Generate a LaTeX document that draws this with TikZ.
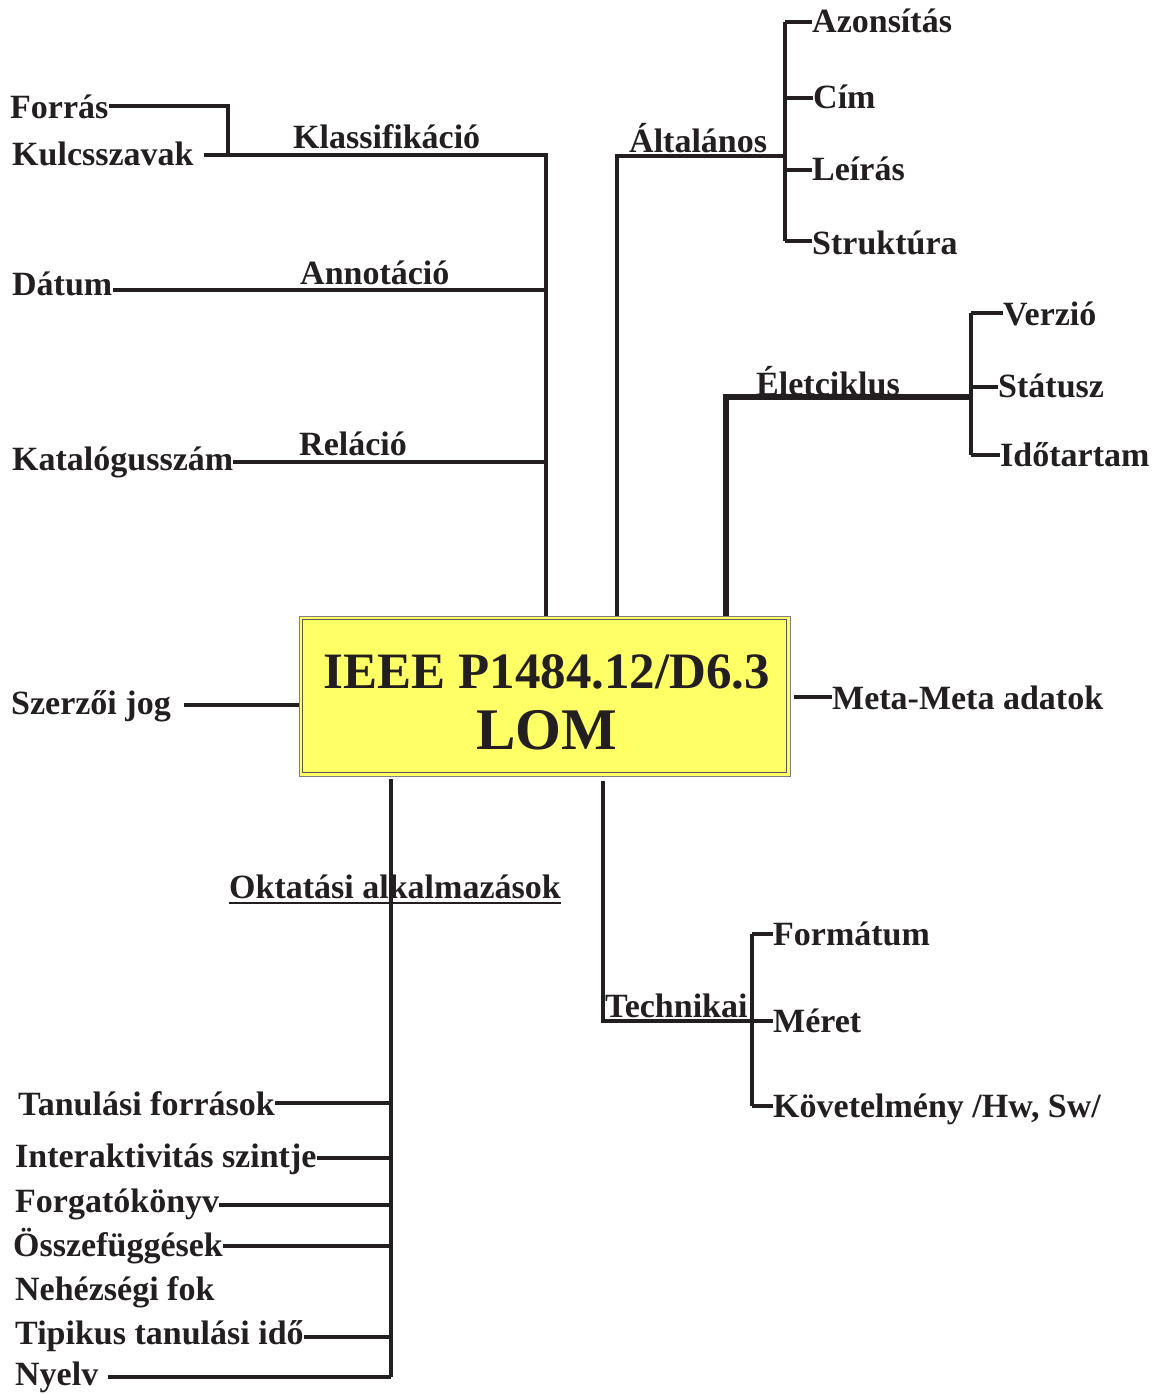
\documentclass[tikz,border=0pt]{standalone}
\usepackage{fontspec}
\setmainfont{Liberation Serif}
\usepackage{tikz}
\usetikzlibrary{positioning,calc}
\usepackage{xcolor}
\definecolor{ink}{HTML}{231F20}
\definecolor{lomyellow}{HTML}{FFFF66}
\newcommand{\lbfont}{\fontsize{34}{40}\selectfont\bfseries}

\begin{document}
\begin{tikzpicture}[x=1pt, y=-1pt,
      leaf/.style={anchor=base west, inner sep=0pt, font=\lbfont, text=ink},
      lombox/.style={draw=gray, line width=1pt, fill=lomyellow, minimum width=491pt, minimum height=160pt, inner sep=0pt},
      titletext/.style={anchor=base, inner sep=0pt, text=ink, font=\fontsize{51}{60}\selectfont\bfseries},
      branch/.style={draw=ink, line width=3.8pt},
      trunk/.style={draw=ink, line width=4.8pt}
    ]
    \useasboundingbox (0,0) rectangle (1162,1394);

    % central box
    \node[lombox] (lom) at (544.5,696) {};
    \draw[ink!75, line width=1pt] ([shift={(4,4)}]lom.north west) rectangle ([shift={(-4,-4)}]lom.south east);
    \node[titletext] (ieee) at (547,688) {IEEE P1484.12/D6.3};
    \node[titletext, font=\fontsize{59}{60}\selectfont\bfseries] (lomtext) at (547,749) {LOM};

    % left upper group
    \node[leaf] (forras) at (10,118) {Forrás};
    \node[leaf] (kulcs) at (12,165) {Kulcsszavak};
    \node[leaf] (klass) at (293,148) {Klassifikáció};
    \node[leaf] (datum) at (12,295) {Dátum};
    \node[leaf] (annot) at (300,284) {Annotáció};
    \node[leaf] (katalog) at (12,470) {Katalógusszám};
    \node[leaf] (relacio) at (299,455) {Reláció};

    % right upper groups
    \node[leaf] (altal) at (629,153) {Általános};
    \node[leaf] (azon) at (812,33) {Azonsítás};
    \node[leaf] (cim) at (813,109) {Cím};
    \node[leaf] (leiras) at (812,180) {Leírás};
    \node[leaf] (strukt) at (812,254) {Struktúra};
    \node[leaf] (eletc) at (756,395) {Életciklus};
    \node[leaf] (verzio) at (1003,325) {Verzió};
    \node[leaf] (statusz) at (998,397) {Státusz};
    \node[leaf] (idotart) at (1000,466) {Időtartam};

    % sides
    \node[leaf] (szerzo) at (11,714) {Szerzői jog};
    \node[leaf] (meta) at (832,709) {Meta-Meta adatok};

    % lower groups
    \node[leaf] (oktat) at (229,898) {Oktatási alkalmazások};
    \node[leaf] (techn) at (605,1017) {Technikai};
    \node[leaf] (format) at (773,945) {Formátum};
    \node[leaf] (meret) at (773,1032) {Méret};
    \node[leaf] (kovet) at (773,1117) {Követelmény /Hw, Sw/};
    \node[leaf] (tanul) at (18,1115) {Tanulási források};
    \node[leaf] (interakt) at (15,1167) {Interaktivitás szintje};
    \node[leaf] (forgat) at (15,1212) {Forgatókönyv};
    \node[leaf] (osszef) at (13,1256) {Összefüggések};
    \node[leaf] (nehez) at (15,1300) {Nehézségi fok};
    \node[leaf] (tipikus) at (15,1344) {Tipikus tanulási idő};
    \node[leaf] (nyelv) at (15,1385) {Nyelv};

    % junctions
    \coordinate (kbend) at (228,155);
    \coordinate (kspine) at (546,155);
    \coordinate (aspine) at (546,290);
    \coordinate (rspine) at (546,462);
    \coordinate (gtop) at (617,156);
    \coordinate (gfork) at (785,156);
    \coordinate (g1) at (785,22);
    \coordinate (g2) at (785,98);
    \coordinate (g3) at (785,170);
    \coordinate (g4) at (785,241);
    \coordinate (etop) at (726,397);
    \coordinate (efork) at (971,397);
    \coordinate (e1) at (971,313);
    \coordinate (e2) at (971,387);
    \coordinate (e3) at (971,455);
    \coordinate (szj) at (299,705);
    \coordinate (otop) at (391,779);
    \coordinate (o1) at (391,1103);
    \coordinate (o2) at (391,1158);
    \coordinate (o3) at (391,1205);
    \coordinate (o4) at (391,1246);
    \coordinate (o5) at (391,1337);
    \coordinate (o6) at (391,1377);
    \coordinate (ttop) at (603,781);
    \coordinate (tcorner) at (603,1021);
    \coordinate (tfork) at (752,1021);
    \coordinate (t1) at (752,934);
    \coordinate (t3) at (752,1106);

    % connectors
    \draw[branch] (forras.east) -| (kbend);
    \draw[trunk] ([xshift=10pt]kulcs.east |- kspine) -- (kspine) -- (kspine |- lom.north);
    \draw[branch] (datum.east |- aspine) -- (aspine);
    \draw[branch] (katalog.east |- rspine) -- (rspine);

    \draw[branch] (gtop |- lom.north) -- (gtop) -- (gfork);
    \draw[branch] (g1) -- (g4);
    \draw[trunk] (g1) -- (azon.west |- g1);
    \draw[branch] (g2) -- (cim.west |- g2);
    \draw[branch] (g3) -- (leiras.west |- g3);
    \draw[branch] (g4) -- (strukt.west |- g4);

    \draw[trunk, line width=5.8pt] (etop |- lom.north) -- (etop) -- (efork);
    \draw[branch] (e1) -- (e3);
    \draw[branch] (e1) -- (verzio.west |- e1);
    \draw[branch] (e2) -- (statusz.west |- e2);
    \draw[branch] (e3) -- (idotart.west |- e3);

    \draw[trunk] ([xshift=13pt]szerzo.east |- szj) -- (szj);
    \draw[branch] ([xshift=3pt]lom.east |- meta.west) -- (meta.west);

    \draw[branch] (otop) -- (o6);
    \draw[ink, line width=2pt] ([yshift=-5pt]oktat.base west) -- ([yshift=-5pt]oktat.base east);
    \draw[branch] (tanul.east |- o1) -- (o1);
    \draw[branch] (interakt.east |- o2) -- (o2);
    \draw[branch] (forgat.east |- o3) -- (o3);
    \draw[branch] (osszef.east |- o4) -- (o4);
    \draw[branch] (tipikus.east |- o5) -- (o5);
    \draw[branch] ([xshift=10pt]nyelv.east |- o6) -- (o6);

    \draw[branch] (ttop) -- (tcorner) -- (tfork);
    \draw[branch] (t1) -- (t3);
    \draw[branch] (t1) -- (format.west |- t1);
    \draw[branch] (tfork) -- (meret.west |- tfork);
    \draw[branch] (t3) -- (kovet.west |- t3);
  \end{tikzpicture}
\end{document}
